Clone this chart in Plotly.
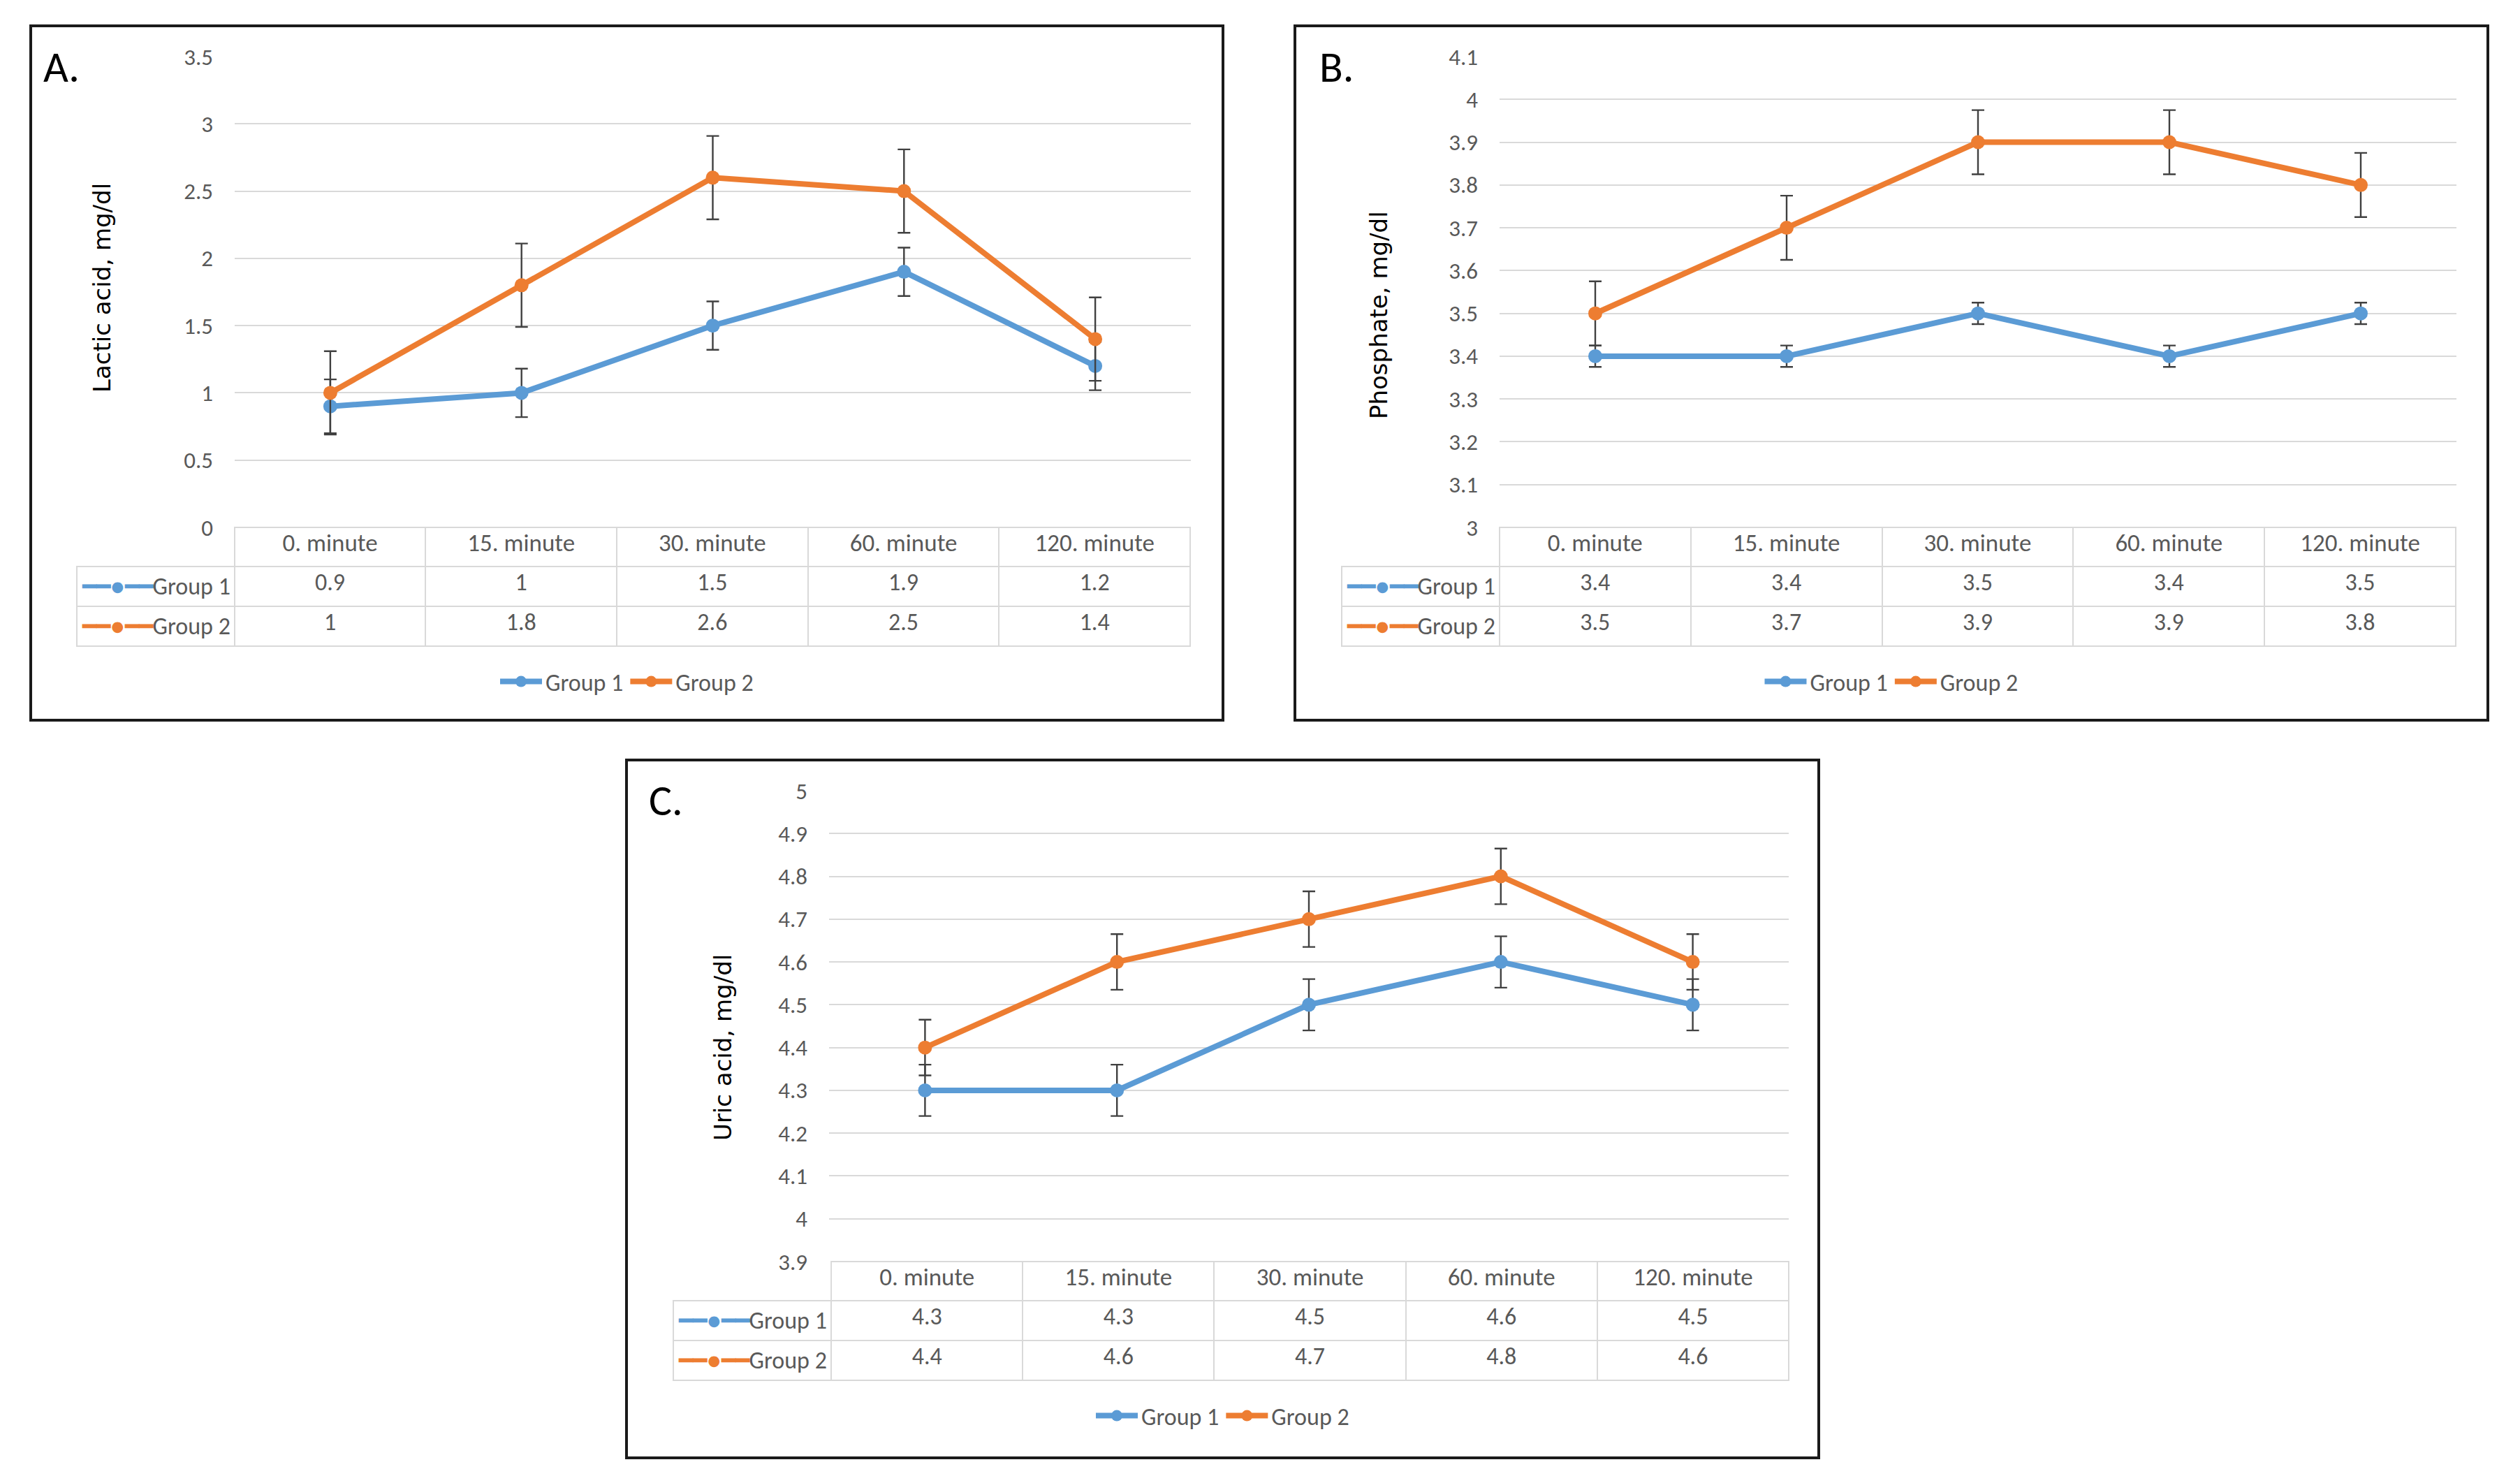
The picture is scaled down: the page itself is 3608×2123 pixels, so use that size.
import plotly.graph_objects as go

W, H = 3608, 2123

categories = ["0. minute", "15. minute", "30. minute", "60. minute", "120. minute"]
series_names = ["Group 1", "Group 2"]

lactic_g1 = [0.9, 1, 1.5, 1.9, 1.2]
lactic_g2 = [1, 1.8, 2.6, 2.5, 1.4]
lactic_err_g1 = [0.2, 0.18, 0.18, 0.18, 0.18]
lactic_err_g2 = [0.31, 0.31, 0.31, 0.31, 0.31]

phos_g1 = [3.4, 3.4, 3.5, 3.4, 3.5]
phos_g2 = [3.5, 3.7, 3.9, 3.9, 3.8]
phos_err_g1 = [0.025, 0.025, 0.025, 0.025, 0.025]
phos_err_g2 = [0.075, 0.075, 0.075, 0.075, 0.075]

uric_g1 = [4.3, 4.3, 4.5, 4.6, 4.5]
uric_g2 = [4.4, 4.6, 4.7, 4.8, 4.6]
uric_err_g1 = [0.06, 0.06, 0.06, 0.06, 0.06]
uric_err_g2 = [0.065, 0.065, 0.065, 0.065, 0.065]

BLUE = "#5B9BD5"
ORANGE = "#ED7D31"
GRID = "#D9D9D9"
TXT = "#595959"
NUMFONT = "Carlito, 'Liberation Sans Narrow', Lato, sans-serif"

def px(x):
    return x / W

def py(y):
    return 1 - y / H

def key_label(name, color):
    # a trailing <br> stops the table from word-wrapping (and breaking) the markup
    return f'<span style="color:{color}">━━●━━</span>{name}<br>'

ROW_H = 56

panels = [
    dict(letter="A.", title="Lactic acid, mg/dl", g1=lactic_g1, g2=lactic_g2,
         e1=lactic_err_g1, e2=lactic_err_g2, yrange=[0, 3.5], dtick=0.5,
         box=(44, 37, 1751, 1031), plot=(336, 81, 1705, 755), table_left=110,
         title_x=146, title_y=412, letter_xy=(60, 96), legend_y=976),
    dict(letter="B.", title="Phosphate, mg/dl", g1=phos_g1, g2=phos_g2,
         e1=phos_err_g1, e2=phos_err_g2, yrange=[3, 4.1], dtick=0.1,
         box=(1854, 37, 3562, 1031), plot=(2147, 81, 3517, 755), table_left=1921,
         title_x=1974, title_y=451, letter_xy=(1887, 96), legend_y=976),
    dict(letter="C.", title="Uric acid, mg/dl", g1=uric_g1, g2=uric_g2,
         e1=uric_err_g1, e2=uric_err_g2, yrange=[3.9, 5], dtick=0.1,
         box=(897, 1088, 2604, 2087), plot=(1187, 1132, 2561, 1806), table_left=964,
         title_x=1035, title_y=1500, letter_xy=(927, 1146), legend_y=2027),
]

fig = go.Figure()
layout = dict(template="none", width=W, height=H, autosize=False,
              margin=dict(l=0, r=0, t=0, b=0, pad=0, autoexpand=False),
              paper_bgcolor="white", plot_bgcolor="white", showlegend=True)
shapes = []
annotations = []

for i, p in enumerate(panels):
    n = "" if i == 0 else str(i + 1)
    xa, ya = "x" + n, "y" + n
    leg = "legend" + n
    x0, y0, x1, y1 = p["plot"]
    bx0, by0, bx1, by1 = p["box"]
    cols = [[key_label(series_names[0], BLUE), key_label(series_names[1], ORANGE)]] + \
           [[p["g1"][k], p["g2"][k]] for k in range(len(categories))]
    fig.add_trace(go.Table(
        domain=dict(x=[px(p["table_left"]), px(x1)], y=[py(y1 + 3 * ROW_H + 12), py(y1)]),
        columnwidth=[226] + [274] * len(categories),
        header=dict(values=[""] + categories, height=ROW_H, align="center",
                    fill=dict(color=["rgba(0,0,0,0)"] + ["white"] * len(categories)),
                    line=dict(color=["rgba(0,0,0,0)"] + [GRID] * len(categories), width=2),
                    font=dict(family=NUMFONT, size=35, color=TXT)),
        cells=dict(values=cols, height=ROW_H, align=["left"] + ["center"] * len(categories),
                   fill=dict(color="white"), line=dict(color=GRID, width=2),
                   font=dict(family=NUMFONT, size=34, color=TXT))))
    layout["xaxis" + n] = dict(domain=[px(x0), px(x1)], type="category",
                               range=[-0.5, len(categories) - 0.5], automargin=False,
                               showticklabels=False, showgrid=False, zeroline=False,
                               showline=False, ticks="", anchor=ya)
    layout["yaxis" + n] = dict(domain=[py(y1), py(y0)], range=p["yrange"], dtick=p["dtick"],
                               automargin=False,
                               showgrid=True, gridcolor=GRID, gridwidth=2, zeroline=False,
                               showline=False, ticks="", ticklabelstandoff=30,
                               tickfont=dict(family=NUMFONT, size=33, color=TXT), anchor=xa)
    for name, vals, errs, col in [(series_names[0], p["g1"], p["e1"], BLUE),
                                  (series_names[1], p["g2"], p["e2"], ORANGE)]:
        fig.add_trace(go.Scatter(
            x=categories, y=vals, name=name, mode="lines+markers",
            line=dict(color=col, width=8), marker=dict(color=col, size=20),
            error_y=dict(type="data", array=errs, visible=True, color="#404040",
                         thickness=2.4, width=9),
            xaxis=xa, yaxis=ya, legend=leg, cliponaxis=False))
    layout[leg] = dict(orientation="h", x=(px(bx0) + px(bx1)) / 2, xanchor="center",
                       y=py(p["legend_y"]), yanchor="middle", bgcolor="rgba(0,0,0,0)",
                       font=dict(family=NUMFONT, size=34, color=TXT), itemwidth=60)
    shapes.append(dict(type="rect", xref="paper", yref="paper", x0=px(bx0), x1=px(bx1),
                       y0=py(by1), y1=py(by0), line=dict(color="#1a1a1a", width=4)))
    annotations.append(dict(text=p["letter"], xref="paper", yref="paper",
                            x=px(p["letter_xy"][0]), y=py(p["letter_xy"][1]),
                            xanchor="left", yanchor="middle", showarrow=False,
                            font=dict(family=NUMFONT, size=62, color="black")))
    annotations.append(dict(text=p["title"], xref="paper", yref="paper",
                            x=px(p["title_x"]), y=py(p["title_y"]), textangle=-90,
                            xanchor="center", yanchor="middle", showarrow=False,
                            font=dict(family="DejaVu Sans", size=34, color="black")))

layout["shapes"] = shapes
layout["annotations"] = annotations
fig.update_layout(**layout)
fig.write_html("out.html", config={"displayModeBar": False},
               post_script="document.body.style.margin='0';document.body.style.overflow='hidden';")
